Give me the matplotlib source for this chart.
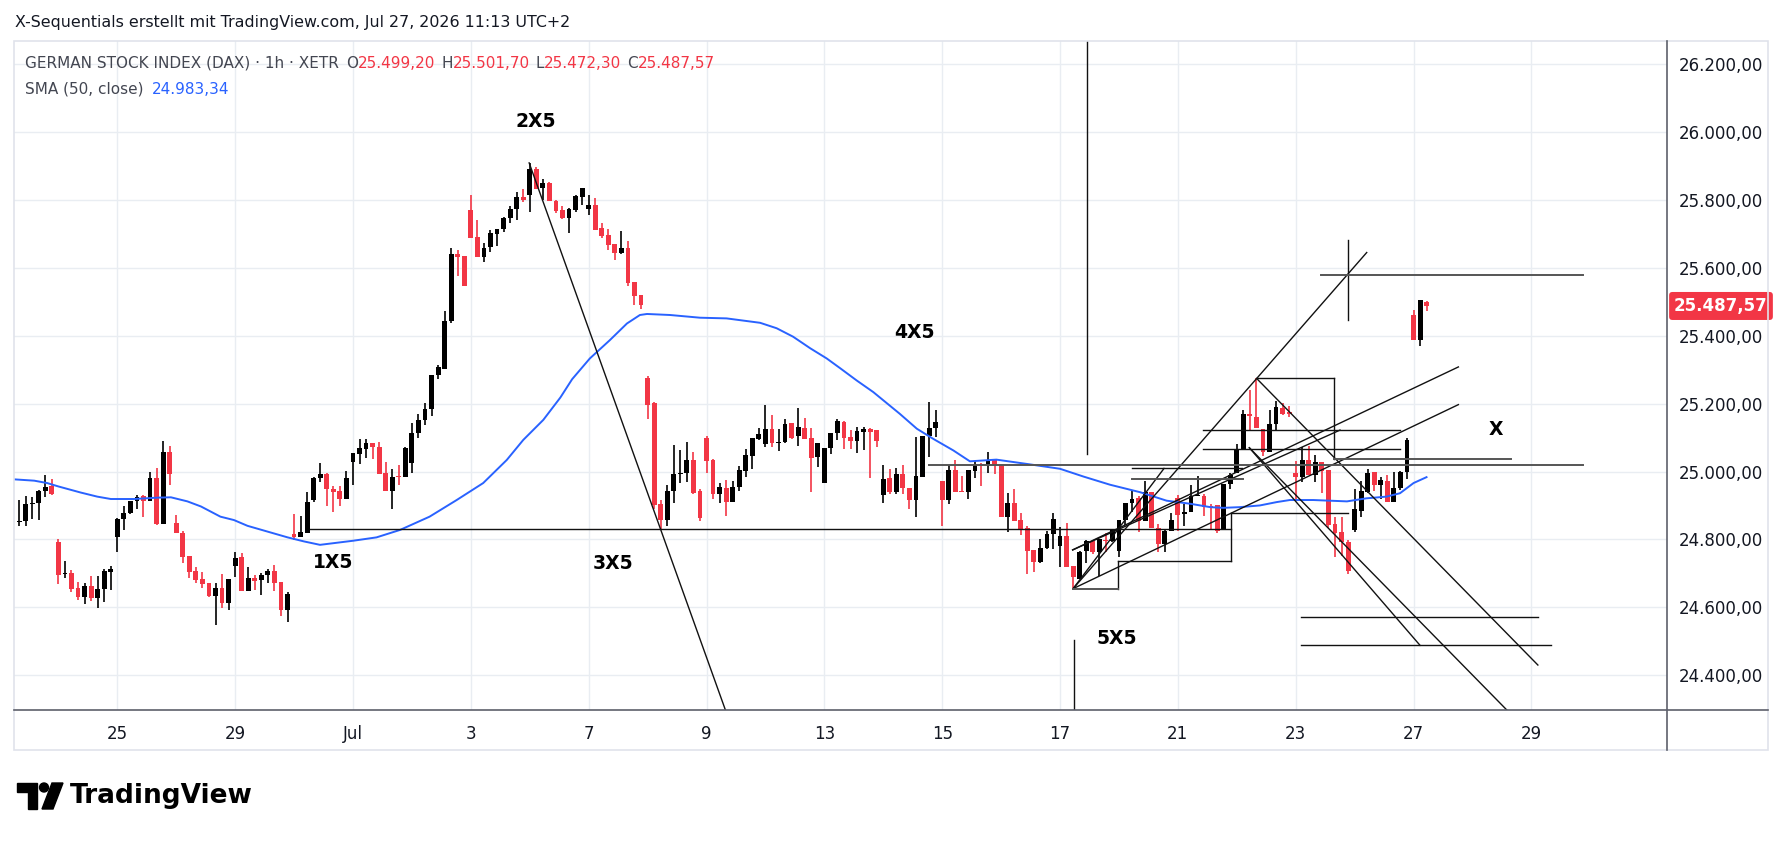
import numpy as np
import matplotlib
matplotlib.use("Agg")
from matplotlib import pyplot as plt
from matplotlib.transforms import blended_transform_factory
from matplotlib.patches import Rectangle, Polygon, Circle

W, H = 1781, 841

# sessions on the x axis (0 = Jun 25, one unit per trading day, 9 hourly bars per day)
day_index = [-2, -1, 0, 1, 2, 3, 4, 5, 6, 7, 8, 9, 10, 11, 12, 13, 14, 15, 16, 17, 18, 19, 20, 21, 22]
bars_per_day = [6] + [9] * 23 + [3]
first_bar = [3] + [0] * 24

opens = [
    24852, 24853, 24905, 24907, 24943, 24958,
    24792, 24698, 24700, 24656, 24631, 24663, 24628, 24653, 24705,
    24808, 24859, 24877, 24912, 24928, 24912, 24980, 24846, 25056,
    24848, 24818, 24751, 24707, 24683, 24671, 24633, 24656, 24612,
    24722, 24749, 24649, 24685, 24679, 24695, 24707, 24674, 24592,
    24816, 24808, 24820, 24916, 24980, 24993, 24949, 24943, 24918,
    25029, 25052, 25067, 25084, 25072, 24997, 24944, 24985, 24983,
    25025, 25113, 25152, 25184, 25285, 25302, 25442, 25641, 25636,
    25769, 25691, 25632, 25661, 25700, 25713, 25747, 25772, 25809,
    25814, 25892, 25836, 25850, 25798, 25769, 25747, 25771, 25810,
    25773, 25785, 25717, 25697, 25669, 25645, 25658, 25557, 25520,
    25274, 25201, 24903, 24856, 24942, 24994, 24997, 25035, 24942,
    25099, 25033, 24933, 24950, 24911, 24953, 25002, 25046, 25097,
    25081, 25124, 25084, 25087, 25142, 25105, 25129, 25099, 25043,
    24965, 25068, 25114, 25147, 25103, 25091, 25116, 25124, 25121,
    24931, 24981, 24939, 24993, 24952, 24916, 24985, 25104, 25129,
    24971, 24916, 25005, 24944, 24939, 25001, 25020, 25018, 25034,
    25018, 24866, 24908, 24857, 24834, 24769, 24733, 24775, 24816,
    24782, 24811, 24723, 24684, 24765, 24794, 24762, 24798, 24795,
    24765, 24856, 24906, 24921, 24853, 24941, 24834, 24785, 24826,
    24921, 24875, 24880, 24929, 24929, 24898, 24900, 24828, 24964,
    24996, 25064, 25170, 25162, 25126, 25057, 25139, 25188, 25174,
    24997, 24985, 25034, 24990, 25028, 25005, 24845, 24821, 24792,
    24828, 24885, 24941, 24998, 24959, 24972, 24909, 24951, 24998,
    25462, 25386, 25499.20,
]
highs = [
    24916, 24928, 24926, 24946, 24990, 24977,
    24801, 24737, 24710, 24674, 24671, 24692, 24692, 24713, 24722,
    24863, 24899, 24914, 24931, 24930, 24998, 25010, 25090, 25074,
    24872, 24825, 24751, 24720, 24705, 24671, 24671, 24697, 24682,
    24762, 24759, 24719, 24695, 24700, 24713, 24725, 24674, 24646,
    24874, 24869, 24941, 24985, 25025, 24995, 24956, 24958, 25002,
    25054, 25096, 25096, 25084, 25087, 25027, 25007, 25020, 25072,
    25143, 25170, 25201, 25285, 25315, 25474, 25659, 25651, 25636,
    25813, 25742, 25673, 25711, 25715, 25750, 25783, 25823, 25831,
    25909, 25897, 25862, 25853, 25801, 25783, 25776, 25815, 25835,
    25815, 25805, 25733, 25714, 25669, 25709, 25679, 25557, 25520,
    25281, 25205, 24917, 24960, 25078, 25063, 25086, 25056, 24947,
    25104, 25036, 24967, 24974, 24971, 25016, 25066, 25099, 25129,
    25196, 25166, 25124, 25156, 25144, 25186, 25159, 25129, 25085,
    25070, 25114, 25156, 25150, 25121, 25131, 25131, 25129, 25123,
    25018, 25008, 25011, 25018, 24952, 25103, 25106, 25206, 25180,
    24971, 25018, 25035, 24988, 25005, 25032, 25025, 25057, 25034,
    25020, 24937, 24947, 24878, 24839, 24769, 24801, 24824, 24877,
    24838, 24849, 24723, 24767, 24798, 24799, 24801, 24818, 24828,
    24857, 24908, 24942, 24929, 24973, 24941, 24846, 24828, 24878,
    24931, 24903, 24959, 24988, 24934, 24903, 24900, 24964, 24996,
    25080, 25182, 25239, 25274, 25126, 25180, 25209, 25201, 25192,
    25031, 25071, 25076, 25049, 25028, 25005, 24865, 24865, 24798,
    24948, 24972, 25008, 24998, 24985, 24990, 24998, 25002, 25098,
    25477, 25506, 25501.70,
]
lows = [
    24840, 24840, 24860, 24856, 24926, 24931,
    24669, 24687, 24646, 24622, 24609, 24620, 24597, 24617, 24651,
    24764, 24828, 24875, 24890, 24867, 24912, 24843, 24846, 24961,
    24818, 24730, 24685, 24671, 24658, 24631, 24548, 24599, 24592,
    24690, 24649, 24649, 24651, 24636, 24671, 24648, 24575, 24558,
    24798, 24808, 24820, 24909, 24970, 24897, 24882, 24897, 24918,
    24959, 25022, 25041, 25036, 24993, 24944, 24889, 24961, 24983,
    24997, 25100, 25138, 25164, 25272, 25302, 25437, 25577, 25546,
    25688, 25632, 25616, 25646, 25664, 25705, 25732, 25742, 25793,
    25764, 25831, 25801, 25796, 25762, 25744, 25702, 25763, 25785,
    25756, 25712, 25687, 25653, 25623, 25640, 25545, 25489, 25479,
    25155, 24891, 24832, 24840, 24906, 24965, 24970, 24935, 24853,
    24996, 24918, 24906, 24868, 24909, 24942, 24984, 25007, 25092,
    25073, 25071, 25061, 25085, 25097, 25076, 25095, 24940, 25014,
    24965, 25051, 25094, 25065, 25065, 25054, 25064, 24980, 25072,
    24907, 24934, 24934, 24934, 24890, 24867, 24983, 25042, 25103,
    24839, 24905, 24941, 24939, 24919, 24981, 24956, 24995, 24993,
    24865, 24821, 24855, 24814, 24698, 24703, 24730, 24772, 24772,
    24718, 24718, 24655, 24684, 24730, 24757, 24693, 24762, 24792,
    24749, 24841, 24880, 24821, 24853, 24833, 24762, 24762, 24824,
    24826, 24839, 24880, 24927, 24868, 24832, 24818, 24828, 24947,
    24996, 25064, 25119, 25128, 25047, 25057, 25123, 25165, 25160,
    24912, 24970, 24990, 24968, 24938, 24833, 24749, 24751, 24698,
    24823, 24865, 24938, 24944, 24918, 24909, 24909, 24946, 24978,
    25388, 25369, 25472.30,
]
closes = [
    24855, 24905, 24907, 24943, 24954, 24934,
    24695, 24700, 24655, 24631, 24663, 24628, 24653, 24707, 24713,
    24861, 24877, 24913, 24924, 24912, 24980, 24846, 25056, 24993,
    24818, 24749, 24705, 24681, 24668, 24633, 24656, 24612, 24682,
    24744, 24649, 24685, 24678, 24695, 24707, 24671, 24592, 24639,
    24808, 24822, 24910, 24980, 24993, 24948, 24941, 24918, 24980,
    25054, 25069, 25084, 25072, 24993, 24944, 24983, 24983, 25069,
    25113, 25152, 25184, 25285, 25308, 25444, 25641, 25632, 25546,
    25688, 25632, 25657, 25703, 25713, 25747, 25772, 25809, 25799,
    25892, 25833, 25850, 25796, 25767, 25747, 25774, 25812, 25835,
    25785, 25712, 25694, 25667, 25645, 25658, 25556, 25518, 25491,
    25196, 24901, 24856, 24942, 24994, 24997, 25035, 24938, 24863,
    25031, 24935, 24953, 24911, 24953, 25004, 25048, 25099, 25110,
    25124, 25085, 25086, 25139, 25100, 25132, 25095, 25040, 25085,
    25070, 25114, 25148, 25098, 25091, 25119, 25124, 25116, 25089,
    24978, 24939, 24993, 24952, 24916, 24987, 25106, 25129, 25147,
    24916, 25005, 24941, 24939, 25003, 25020, 25018, 25034, 25020,
    24865, 24908, 24855, 24829, 24767, 24733, 24775, 24816, 24860,
    24811, 24718, 24688, 24764, 24794, 24762, 24800, 24795, 24828,
    24856, 24908, 24919, 24853, 24941, 24833, 24787, 24826, 24858,
    24873, 24882, 24929, 24931, 24895, 24895, 24824, 24964, 24990,
    25064, 25170, 25163, 25128, 25057, 25139, 25190, 25168, 25170,
    24985, 25034, 24990, 25028, 25002, 24843, 24818, 24791, 24707,
    24889, 24943, 24995, 24961, 24975, 24909, 24951, 24998, 25093,
    25388, 25504, 25487.57,
]

# SMA(50)
sma_x = [-1.76, -1.41, -1.19, -1.0, -0.62, -0.34, -0.11, 0.28, 0.68, 0.91, 1.19, 1.42,
         1.75, 1.98, 2.21, 2.55, 2.89, 3.17, 3.44, 4.0, 4.4, 4.8, 5.3, 5.76, 6.21, 6.61,
         6.89, 7.23, 7.52, 7.72, 8.02, 8.36, 8.65, 8.87, 8.99, 9.38, 9.89, 10.34, 10.91,
         11.19, 11.47, 11.76, 12.04, 12.27, 12.55, 12.83, 13.28, 13.57, 13.85, 14.19,
         14.47, 14.92, 15.49, 16.0, 16.4, 16.85, 17.36, 17.81, 18.21, 18.55, 18.77, 19.05,
         19.39, 19.68, 19.9, 20.3, 20.87, 21.2, 21.54, 21.77, 22.0, 22.22]
sma_y = [24977, 24973, 24966, 24956, 24938, 24926, 24919, 24919, 24923, 24924, 24912, 24897,
         24867, 24857, 24840, 24823, 24806, 24794, 24784, 24796, 24806, 24828, 24867, 24916,
         24966, 25034, 25093, 25152, 25218, 25272, 25333, 25387, 25436, 25461, 25464, 25461,
         25453, 25451, 25438, 25422, 25397, 25363, 25333, 25304, 25268, 25234, 25170, 25126,
         25096, 25062, 25030, 25035, 25021, 25008, 24985, 24961, 24939, 24914, 24905, 24895,
         24893, 24895, 24900, 24910, 24916, 24916, 24912, 24921, 24926, 24936, 24966, 24983.34]

# drawn trend lines (day, price) -> (day, price)
black_lines = [
    (6.99, 25909, 10.45, 24235),
    (3.27, 24830, 18.896, 24830),
    (16.45, 25052, 16.45, 26400),
    (16.23, 24505, 16.23, 24200),
    (16.99, 24655, 16.99, 24736),
    (16.99, 24736, 18.896, 24736),
    (18.896, 24736, 18.896, 24877),
    (18.896, 24877, 20.894, 24877),
    (16.222, 24655, 21.205, 25645),
    (16.222, 24655, 17.765, 25009),
    (16.222, 24655, 22.761, 25197),
    (16.214, 24769, 22.761, 25308),
    (16.214, 24769, 20.752, 25122),
    (19.337, 25275, 20.656, 25275),
    (20.656, 25275, 20.656, 25037),
    (18.43, 25121, 21.77, 25121),
    (18.43, 25065, 21.77, 25065),
    (17.22, 25009, 19.08, 25009),
    (19.337, 25274, 24.11, 24430),
    (19.213, 25070, 23.75, 24268),
    (19.213, 25070, 22.11, 24488),
    (20.09, 24572, 24.11, 24572),
    (20.09, 24488, 24.33, 24488),
    (20.894, 25446, 20.894, 25682),
]
grey_lines = [
    (13.782, 25019, 24.88, 25019),
    (20.656, 25037, 23.66, 25037),
    (17.22, 24977, 19.10, 24977),
    (16.222, 24655, 16.99, 24655),
    (20.43, 25580, 24.88, 25580),
]
labels = ["1X5", "2X5", "3X5", "4X5", "5X5", "X"]
label_x = [3.66, 7.11, 8.42, 13.53, 16.96, 23.40]
label_y = [24733, 26031, 24729, 25408, 24508, 25125]

price_ticks = [24400, 24600, 24800, 25000, 25200, 25400, 25600, 25800, 26000, 26200]
date_ticks = [0, 2, 4, 6, 8, 10, 12, 14, 16, 18, 20, 22, 24]
date_labels = ["25", "29", "Jul", "3", "7", "9", "13", "15", "17", "21", "23", "27", "29"]
last_price = 25487.57

RED = "#f23645"
TXT = "#131722"
LEG = "#434651"


def de_fmt(v):
    s = f"{v:,.2f}"
    return s.replace(",", "#").replace(".", ",").replace("#", ".")


# bar positions
xs = []
for d, n, k0 in zip(day_index, bars_per_day, first_bar):
    for k in range(k0, k0 + n):
        xs.append(d + k / 9)
xs = np.array(xs)
o, h, l, c = map(np.array, (opens, highs, lows, closes))

fig = plt.figure(figsize=(W / 100, H / 100), dpi=100)
x0, x1 = 13.6, 1667.5
y0, y1 = 40.5, 709.5
ax = fig.add_axes([x0 / W, 1 - y1 / H, (x1 - x0) / W, (y1 - y0) / H])
ax.set_xlim(-1.76, 26.31)
ax.set_ylim(24299, 26269.5)
for s in ax.spines.values():
    s.set_visible(False)

ax.set_xticks(date_ticks)
ax.set_xticklabels(date_labels)
ax.set_yticks(price_ticks)
ax.set_yticklabels([de_fmt(p) for p in price_ticks])
ax.yaxis.tick_right()
ax.tick_params(axis="both", length=0, labelsize=12, colors=TXT)
ax.tick_params(axis="x", pad=11)
ax.tick_params(axis="y", pad=8)
ax.grid(True, color="#e9edf2", lw=1.0)
ax.set_axisbelow(True)

up = c >= o
cols = np.where(up, "#000000", RED)
ax.vlines(xs, l, h, colors=cols, lw=1.2, zorder=3)
body = np.maximum(np.abs(c - o), 3)
ax.bar(xs, body, bottom=np.minimum(o, c), width=0.082, color=cols, lw=0, zorder=4)

ax.plot(sma_x, sma_y, color="#2962ff", lw=1.4, zorder=5)

for xa, ya, xb, yb in black_lines:
    ax.plot([xa, xb], [ya, yb], color="#111111", lw=1.0, zorder=6)
for xa, ya, xb, yb in grey_lines:
    ax.plot([xa, xb], [ya, yb], color="#555555", lw=1.4, zorder=6)
for t, lx, ly in zip(labels, label_x, label_y):
    ax.text(lx, ly, t, ha="center", va="center", fontsize=13.5, fontweight="bold", color="#000000", zorder=7)

tr = blended_transform_factory(ax.transAxes, ax.transData)
ax.text(1.004, last_price, de_fmt(last_price), transform=tr, ha="left", va="center",
        color="white", fontsize=12, fontweight="bold", clip_on=False, zorder=8,
        bbox=dict(boxstyle="round,pad=0.3,rounding_size=0.2", fc=RED, ec="none"))

# frame, axis separators, header and logo
ov = fig.add_axes([0, 0, 1, 1], zorder=5)
ov.set_xlim(0, W)
ov.set_ylim(H, 0)
ov.axis("off")
ov.add_patch(Rectangle((x0, y0), 1767.6 - x0, 749.5 - y0, fill=False, ec="#e0e3eb", lw=1.2))
ov.plot([x1, x1], [y0, 749.5], color="#5d606b", lw=1.2)
ov.plot([x0, 1767.6], [y1, y1], color="#5d606b", lw=1.2)

fig.text(15 / W, 1 - 22 / H, "X-Sequentials erstellt mit TradingView.com, Jul 27, 2026 11:13 UTC+2",
         fontsize=11.4, color=TXT, va="center", ha="left")

renderer = fig.canvas.get_renderer()


def put_pieces(pieces, x, y, size):
    for txt, col, gap in pieces:
        t = fig.text(x / W, 1 - y / H, txt, color=col, fontsize=size, va="center", ha="left")
        x += t.get_window_extent(renderer=renderer).width + gap


put_pieces([("GERMAN STOCK INDEX (DAX) · 1h · XETR", LEG, 7),
            ("O", LEG, 0), (de_fmt(opens[-1]), RED, 6),
            ("H", LEG, 0), (de_fmt(highs[-1]), RED, 6),
            ("L", LEG, 0), (de_fmt(lows[-1]), RED, 6),
            ("C", LEG, 0), (de_fmt(closes[-1]), RED, 0)], 25, 63, 11)
put_pieces([("SMA (50, close)", LEG, 8), (de_fmt(sma_y[-1]), "#2962ff", 0)], 25, 89.5, 11)

ov.add_patch(Polygon([(17, 783), (37, 783), (37, 809), (28, 809), (28, 792), (17, 792)], color="black"))
ov.add_patch(Circle((44, 787.5), 4.5, color="black"))
ov.add_patch(Polygon([(52, 783), (63, 783), (53, 809), (42, 809)], color="black"))
ov.text(70, 796, "TradingView", fontsize=19, fontweight="bold", color="black", va="center", ha="left")

fig.savefig("out.png", dpi=100, facecolor="white")
